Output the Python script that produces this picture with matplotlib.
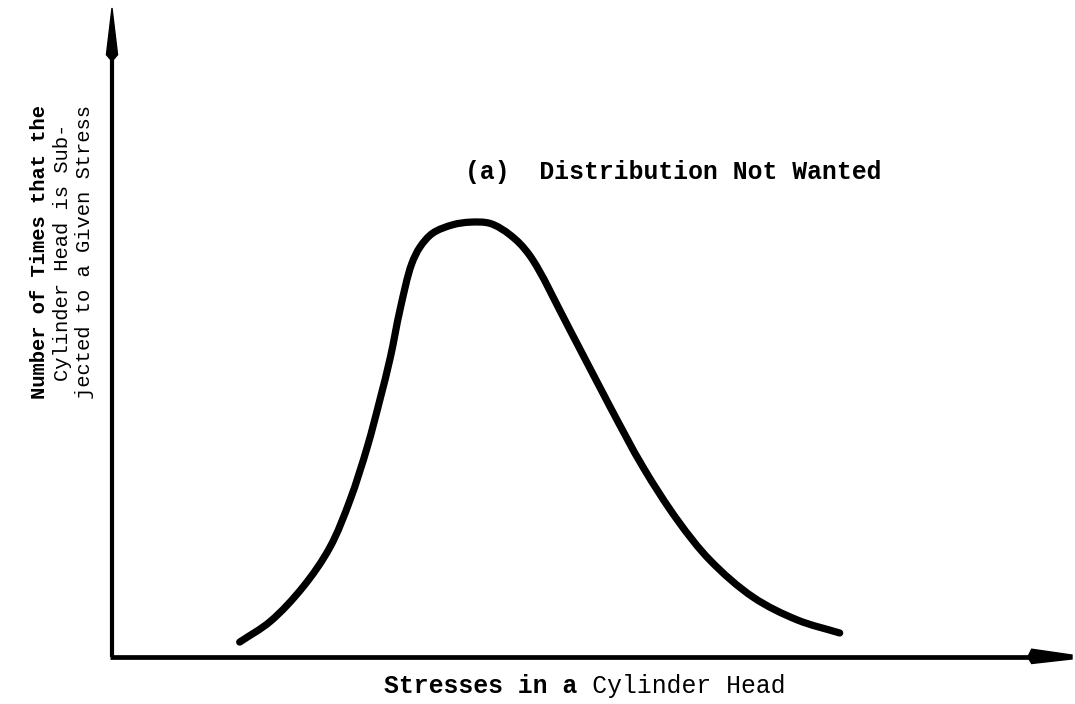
import matplotlib
matplotlib.use("Agg")
import numpy as np
import matplotlib.pyplot as plt
from matplotlib.path import Path
from matplotlib.patches import PathPatch, Polygon

# Stress (arbitrary units along the horizontal axis) and relative frequency
stress = [13.3, 16.5, 19.9, 22.7, 24.8, 26.6, 27.9, 29.0, 30.0, 31.2,
          32.1, 33.4, 35.5, 37.3, 39.4, 41.5, 43.5, 47.7, 51.9, 55.3,
          58.9, 62.3, 66.8, 71.4, 75.8]
occurrences = [2.3, 5.5, 10.8, 16.9, 24.2, 32.4, 39.6, 46.2, 53.5, 60.5,
               63.2, 65.3, 66.6, 67.0, 66.8, 65.0, 61.9, 50.4, 38.5,
               29.3, 21.1, 14.9, 9.2, 5.7, 3.7]

title = "(a)  Distribution Not Wanted"
xlabel_bold = "Stresses in a"
xlabel_rest = "Cylinder Head"
ylabel_lines = ["Number of Times that the",
                "Cylinder Head is Sub-",
                "jected to a Given Stress"]

W, H = 1075, 704
fig = plt.figure(figsize=(W / 100, H / 100), dpi=100)
fig.patch.set_facecolor("white")

ax = fig.add_axes([112 / W, 47 / H, (1072 - 112) / W, (657 - 8) / H])
ax.set_xlim(0, 100)
ax.set_ylim(0, 100)
ax.axis("off")


def smooth_path(ax, xs, ys, alpha=0.5):
    """Centripetal Catmull-Rom curve through the points (cubic Beziers)."""
    pts = ax.transData.transform(np.column_stack([xs, ys]))
    ext = np.vstack([2 * pts[0] - pts[1], pts, 2 * pts[-1] - pts[-2]])
    verts = [pts[0]]
    codes = [Path.MOVETO]
    for i in range(1, len(pts)):
        p0, p1, p2, p3 = ext[i - 1], ext[i], ext[i + 1], ext[i + 2]
        d0 = np.linalg.norm(p1 - p0) ** alpha
        d1 = np.linalg.norm(p2 - p1) ** alpha
        d2 = np.linalg.norm(p3 - p2) ** alpha
        m1 = ((p1 - p0) / d0 - (p2 - p0) / (d0 + d1) + (p2 - p1) / d1) * d1
        m2 = ((p2 - p1) / d1 - (p3 - p1) / (d1 + d2) + (p3 - p2) / d2) * d1
        verts += [p1 + m1 / 3, p2 - m2 / 3, p2]
        codes += [Path.CURVE4] * 3
    inv = ax.transData.inverted()
    return Path(inv.transform(np.array(verts)), codes)


# Axis lines (axes-fraction coordinates)
tr = ax.transAxes
ax.plot([0, 0], [0, 0.96], color="black", lw=3, transform=tr, clip_on=False,
        solid_capstyle="butt")
ax.plot([-0.002, 0.97], [0, 0], color="black", lw=3.4, transform=tr,
        clip_on=False, solid_capstyle="butt")

# Arrowheads
ax.add_patch(Polygon([(0, 1.0), (0.0058, 0.928), (0, 0.918), (-0.0058, 0.928)],
                     closed=True, transform=tr, color="black", clip_on=False))
ax.add_patch(Polygon([(0.954, 0), (0.958, 0.012), (1.0, 0.003), (1.0, -0.003),
                      (0.958, -0.010)],
                     closed=True, transform=tr, color="black", clip_on=False))

ax.add_patch(PathPatch(smooth_path(ax, stress, occurrences), facecolor="none",
                       edgecolor="black", lw=5.2, capstyle="round",
                       joinstyle="round"))

mono = "Liberation Mono"

fig.text(673 / W, 1 - 172 / H, title, family=mono, weight="bold",
         fontsize=17.8, ha="center", va="center")

# x label: bold and regular parts share one monospace grid
n = len(xlabel_bold) + 1 + len(xlabel_rest)
fig.text(585 / W, 1 - 686 / H, xlabel_bold.ljust(n), family=mono,
         weight="bold", fontsize=17.8, ha="center", va="center")
fig.text(585 / W, 1 - 686 / H, xlabel_rest.rjust(n), family=mono,
         fontsize=17.8, ha="center", va="center")

ycols = [40, 62, 85]
for i, (line, xc) in enumerate(zip(ylabel_lines, ycols)):
    fig.text(xc / W, 1 - 252 / H, line, family=mono, rotation=90,
             weight="bold" if i == 0 else "normal", fontsize=14.8,
             ha="center", va="center")

fig.savefig("out.png", dpi=100, facecolor="white")
